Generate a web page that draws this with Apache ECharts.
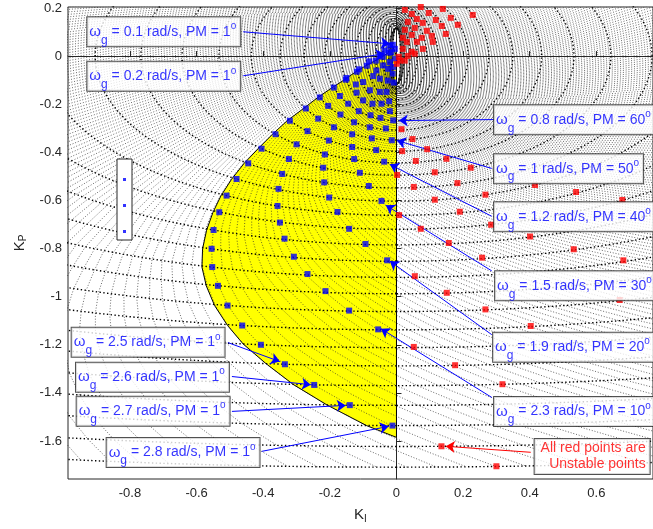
<!DOCTYPE html>
<html>
<head>
<meta charset="utf-8">
<script src="https://cdn.jsdelivr.net/npm/echarts@6/dist/echarts.min.js"></script>
<style>
html, body { margin: 0; padding: 0; background: #fff; }
#main { width: 653px; height: 529px; }
</style>
</head>
<body>
<div id="main"></div>
<script>
// gain crossover frequencies of the grid (rad/s)
var omegas = [0.1, 0.2, 0.3, 0.4, 0.5, 0.6, 0.7, 0.8, 0.9, 1.0,
              1.1, 1.2, 1.3, 1.4, 1.5, 1.6, 1.7, 1.8, 1.9, 2.0,
              2.1, 2.2, 2.3, 2.4, 2.5, 2.6, 2.7, 2.8, 2.9, 3.0];
// half height of each omega ellipse
var ellipseKp = [0.120, 0.116, 0.137, 0.156, 0.182, 0.208, 0.238, 0.269, 0.308, 0.349,
                 0.396, 0.444, 0.495, 0.548, 0.603, 0.662, 0.720, 0.785, 0.853, 0.920,
                 0.988, 1.062, 1.138, 1.212, 1.288, 1.370, 1.452, 1.536, 1.623, 1.709];
// angle on the ellipse where PM = 0 (deg), read from the PM = 1 points
var zeroPmDeg = [114, 98, 89.7, 84, 78.3, 73, 66.7, 61.9, 57.1, 52.3,
                 48.3, 43.9, 39.9, 36.5, 33.1, 29.8, 26.8, 23.9, 21, 18.5,
                 15.9, 13.5, 11.2, 9.1, 7.0, 5.0, 3.05, 1.2, -0.64, -2.35];

// stable region outline [K_I, K_P]
var stableBoundary = [
  [0, 0.0], [-0.013, 0.047], [-0.025, 0.013], [-0.044, -0.004], [-0.065, -0.020],
  [-0.093, -0.041], [-0.123, -0.066], [-0.157, -0.099], [-0.194, -0.132], [-0.237, -0.173],
  [-0.280, -0.219], [-0.329, -0.270], [-0.373, -0.326], [-0.416, -0.386], [-0.458, -0.447],
  [-0.495, -0.512], [-0.527, -0.581], [-0.551, -0.650], [-0.570, -0.724], [-0.582, -0.801],
  [-0.584, -0.877], [-0.571, -0.955], [-0.546, -1.037], [-0.507, -1.120], [-0.460, -1.197],
  [-0.392, -1.278], [-0.310, -1.365], [-0.209, -1.450], [-0.090, -1.536], [0, -1.585]
];

// blue points, PM = 1 deg row
var stableEdge = [
  [-0.011, 0.047], [-0.023, 0.014], [-0.041, -0.003], [-0.062, -0.019], [-0.089, -0.040],
  [-0.119, -0.065], [-0.152, -0.098], [-0.188, -0.131], [-0.230, -0.172], [-0.272, -0.218],
  [-0.320, -0.269], [-0.363, -0.325], [-0.405, -0.385], [-0.445, -0.446], [-0.480, -0.511],
  [-0.510, -0.580], [-0.532, -0.649], [-0.549, -0.723], [-0.555, -0.801], [-0.553, -0.877],
  [-0.536, -0.955], [-0.507, -1.037], [-0.463, -1.120], [-0.407, -1.200], [-0.335, -1.281],
  [-0.247, -1.367], [-0.140, -1.451], [-0.012, -1.536]
];
// blue points, PM = 10..60 deg
var stableInner = [
  [-0.205, -0.207], [-0.235, -0.260], [-0.267, -0.312], [-0.300, -0.367], [-0.323, -0.428],
  [-0.343, -0.490], [-0.354, -0.552], [-0.357, -0.623], [-0.350, -0.692], [-0.336, -0.759],
  [-0.308, -0.834], [-0.267, -0.906], [-0.213, -0.977], [-0.142, -1.058], [-0.055, -1.136],
  [-0.145, -0.198], [-0.168, -0.243], [-0.188, -0.296], [-0.203, -0.351], [-0.215, -0.409],
  [-0.220, -0.464], [-0.217, -0.525], [-0.202, -0.588], [-0.177, -0.648], [-0.142, -0.718],
  [-0.093, -0.781], [-0.028, -0.849],
  [-0.120, -0.152], [-0.100, -0.184], [-0.113, -0.229], [-0.127, -0.275], [-0.133, -0.325],
  [-0.133, -0.378], [-0.127, -0.428], [-0.110, -0.485], [-0.083, -0.540], [-0.045, -0.602],
  [-0.080, -0.142], [-0.072, -0.198], [-0.078, -0.246], [-0.080, -0.296], [-0.074, -0.342],
  [-0.061, -0.391], [-0.037, -0.439],
  [-0.050, -0.149], [-0.045, -0.198], [-0.048, -0.257], [-0.032, -0.301], [-0.014, -0.350],
  [-0.030, -0.149], [-0.022, -0.188], [-0.020, -0.229], [-0.010, -0.267]
];
// blue points crowded near the origin
var stableCrowd = [
  [-0.170, -0.166], [-0.150, -0.091], [-0.112, -0.055], [-0.122, -0.118], [-0.100, -0.108],
  [-0.082, -0.022], [-0.070, -0.083], [-0.050, 0.002], [-0.060, -0.060], [-0.035, 0.023],
  [-0.040, -0.039], [-0.020, -0.025], [-0.015, 0.017], [-0.020, 0.044], [-0.025, -0.053],
  [-0.011, -0.073], [-0.026, -0.102], [-0.050, -0.094], [-0.008, -0.110], [-0.005, 0.030],
  [-0.004, -0.010], [-0.010, -0.045]
];
// red points
var unstablePts = [
  [0.025, 0.192], [0.046, 0.175], [0.073, 0.204], [0.097, 0.179], [0.139, 0.196],
  [0.229, 0.171], [0.034, 0.142], [0.061, 0.154], [0.079, 0.138], [0.118, 0.150],
  [0.163, 0.159], [0.184, 0.130], [0.025, 0.109], [0.055, 0.117], [0.091, 0.105],
  [0.136, 0.125], [0.148, 0.092], [0.019, 0.076], [0.046, 0.088], [0.076, 0.076],
  [0.106, 0.084], [0.109, 0.059], [0.031, 0.059], [0.061, 0.059], [0.079, 0.030],
  [0.019, 0.030], [0.034, 0.001], [0.007, -0.003], [0.010, -0.019], [0.001, -0.032],
  [0.046, 0.018], [0.055, 0.010], [0.025, -0.019],
  [0.015, -0.304], [0.048, -0.345], [0.092, -0.387], [0.017, -0.395], [0.058, -0.436],
  [0.150, -0.427], [0.223, -0.464], [0.115, -0.483], [0.002, -0.494], [0.183, -0.528],
  [0.052, -0.544], [0.267, -0.576], [0.115, -0.597], [0.190, -0.647], [0.008, -0.661],
  [0.284, -0.701], [0.073, -0.718], [0.157, -0.777], [0.257, -0.838], [0.055, -0.915],
  [0.151, -0.984], [0.267, -1.053], [0.403, -1.122], [0.052, -1.209], [0.176, -1.285],
  [0.318, -1.364], [0.135, -1.622], [0.300, -1.705], [0.416, -0.536], [0.539, -0.565],
  [0.678, -0.598], [0.401, -0.750], [0.532, -0.803], [0.681, -0.849], [0.670, -1.014]
];

// callouts
var annoOmega = ['0.1', '0.2', '0.8', '1', '1.2', '1.5', '1.9', '2.3', '2.5', '2.6', '2.7', '2.8'];
var annoPm = ['1', '1', '60', '50', '40', '30', '20', '10', '1', '1', '1', '1'];
var annoBox = [[-0.928, 0.101], [-0.928, -0.084], [0.293, -0.265], [0.293, -0.468],
               [0.293, -0.668], [0.296, -0.955], [0.290, -1.210], [0.293, -1.477],
               [-0.975, -1.190], [-0.962, -1.335], [-0.960, -1.476], [-0.870, -1.648]];
var annoTail = [[-0.460, 0.101], [-0.460, -0.082], [0.292, -0.264], [0.286, -0.467],
                [0.286, -0.666], [0.286, -0.893], [0.286, -1.158], [0.286, -1.419],
                [-0.506, -1.191], [-0.494, -1.332], [-0.494, -1.477], [-0.404, -1.643]];
var annoTip = [[-0.020, 0.051], [-0.035, 0.010], [0.007, -0.268], [0.001, -0.351],
               [-0.020, -0.450], [-0.032, -0.620], [-0.020, -0.852], [-0.047, -1.133],
               [-0.350, -1.270], [-0.257, -1.366], [-0.152, -1.452], [-0.023, -1.539]];
var redNoteBox = [0.760, -1.664];
var redNoteTail = [0.403, -1.647];
var redNoteTip = [0.148, -1.622];

var xTicks = [-0.8, -0.6, -0.4, -0.2, 0, 0.2, 0.4, 0.6];
var yTicks = [-1.6, -1.4, -1.2, -1, -0.8, -0.6, -0.4, -0.2, 0, 0.2];

var BLUE = '#0000ff', RED = '#ff0000', FONT = 'Liberation Sans';

// dotted mesh: constant-omega ellipses and constant-PM curves
var rad = Math.PI / 180;
var ellipseData = [];
omegas.forEach(function (w, i) {
  for (var d = 0; d <= 360; d += 2) {
    ellipseData.push([-w * ellipseKp[i] * Math.sin(d * rad), -ellipseKp[i] * Math.cos(d * rad)]);
  }
  ellipseData.push(['-', '-']);
});
var pmData = [];
for (var p = 0; p < 360; p += 1) {
  omegas.forEach(function (w, i) {
    var psi = (zeroPmDeg[i] - p) * rad;
    pmData.push([-w * ellipseKp[i] * Math.sin(psi), -ellipseKp[i] * Math.cos(psi)]);
  });
  pmData.push(['-', '-']);
}

var arrowLines = annoTail.map(function (t, i) {
  return [{ coord: t }, { coord: annoTip[i] }];
});

var chart = echarts.init(document.getElementById('main'), null, { renderer: 'canvas' });
chart.setOption({
  animation: false,
  textStyle: { fontFamily: FONT },
  grid: { left: 68, right: -2, top: 7, bottom: 47, show: true, borderColor: '#262626', borderWidth: 1, backgroundColor: 'transparent' },
  legend: {
    data: ['PM edge', 'PM inner', 'near origin'],
    orient: 'vertical', left: 117, top: 159,
    icon: 'rect', itemWidth: 3, itemHeight: 3, itemGap: 23,
    formatter: function () { return ''; },
    backgroundColor: '#fff', borderColor: '#262626', borderWidth: 1,
    padding: [19, 6, 7, 6], selectedMode: false, z: 20
  },
  xAxis: {
    type: 'value', min: -0.986, max: 0.77,
    name: '{k|K}{s|I}', nameLocation: 'middle', nameGap: 27,
    nameTextStyle: { color: '#262626', rich: { k: { fontSize: 15, fontFamily: FONT }, s: { fontSize: 10, verticalAlign: 'bottom', fontFamily: FONT, padding: [8, 0, 0, 0] } } },
    axisLine: { lineStyle: { color: '#262626' } },
    axisTick: { inside: true, length: 5, customValues: xTicks, lineStyle: { color: '#262626' } },
    axisLabel: { customValues: xTicks, color: '#262626', fontSize: 13, margin: 8, formatter: function (v) { return String(+v.toFixed(1)); } },
    splitLine: { show: false }
  },
  yAxis: {
    type: 'value', min: -1.758, max: 0.204,
    name: '{k|K}{s|P}', nameLocation: 'middle', nameGap: 38,
    nameTextStyle: { color: '#262626', rich: { k: { fontSize: 15, fontFamily: FONT }, s: { fontSize: 10, verticalAlign: 'bottom', fontFamily: FONT, padding: [8, 0, 0, 0] } } },
    axisLine: { lineStyle: { color: '#262626' } },
    axisTick: { inside: true, length: 5, customValues: yTicks, lineStyle: { color: '#262626' } },
    axisLabel: { customValues: yTicks, color: '#262626', fontSize: 13, margin: 6, formatter: function (v) { return String(+v.toFixed(1)); } },
    splitLine: { show: false }
  },
  series: [
    {
      name: 'stable region', type: 'custom', z: 1, silent: true,
      data: [[0, 0]],
      renderItem: function (params, api) {
        return {
          type: 'polygon',
          shape: { points: stableBoundary.map(function (pt) { return api.coord(pt); }) },
          style: { fill: '#ffff00', stroke: '#000', lineWidth: 1 }
        };
      }
    },
    {
      name: 'PM curves', type: 'line', z: 2, silent: true, showSymbol: false, connectNulls: false,
      data: pmData, lineStyle: { color: '#2a2a2a', width: 0.7, type: [1, 1.8] }
    },
    {
      name: 'omega ellipses', type: 'line', z: 3, silent: true, showSymbol: false, connectNulls: false,
      data: ellipseData, lineStyle: { color: '#000', width: 1.4, type: [1.4, 2.4] }
    },
    { name: 'PM edge', type: 'scatter', z: 5, symbol: 'rect', symbolSize: 6, itemStyle: { color: BLUE }, data: stableEdge },
    { name: 'PM inner', type: 'scatter', z: 5, symbol: 'rect', symbolSize: 6, itemStyle: { color: BLUE }, data: stableInner },
    { name: 'near origin', type: 'scatter', z: 5, symbol: 'rect', symbolSize: 6, itemStyle: { color: BLUE }, data: stableCrowd },
    { name: 'unstable', type: 'scatter', z: 5, symbol: 'rect', symbolSize: 6, itemStyle: { color: RED }, data: unstablePts },
    {
      name: 'arrows', type: 'scatter', z: 6, data: [],
      markLine: {
        silent: true, symbol: ['none', 'arrow'], symbolSize: 9, precision: 4,
        label: { show: false },
        lineStyle: { color: BLUE, width: 1, type: 'solid' },
        data: arrowLines.concat([[{ coord: redNoteTail, lineStyle: { color: RED } }, { coord: redNoteTip }]])
      }
    },
    {
      name: 'callouts', type: 'scatter', z: 8, symbolSize: 0, silent: true,
      data: annoBox,
      label: {
        show: true, position: [0, 0], align: 'left', verticalAlign: 'middle',
        backgroundColor: '#fff', borderColor: '#262626', borderWidth: 1, padding: [0, 4, 0, 2],
        formatter: function (params) {
          var i = params.dataIndex;
          return '{w|\u03c9}{g|g}{t| = ' + annoOmega[i] + ' rad/s, PM = ' + annoPm[i] + '}{o|o}';
        },
        rich: {
          w: { fontSize: 15, color: BLUE, fontFamily: FONT, lineHeight: 29 },
          g: { fontSize: 12, color: BLUE, fontFamily: FONT, lineHeight: 14, verticalAlign: 'bottom' },
          t: { fontSize: 14, color: BLUE, fontFamily: FONT, lineHeight: 29 },
          o: { fontSize: 10, color: BLUE, fontFamily: FONT, lineHeight: 12, verticalAlign: 'top', padding: [4, 0, 0, 0] }
        }
      }
    },
    {
      name: 'red note', type: 'scatter', z: 8, symbolSize: 0, silent: true,
      data: [redNoteBox],
      label: {
        show: true, position: [0, 0], align: 'right', verticalAlign: 'middle',
        backgroundColor: '#fff', borderColor: '#262626', borderWidth: 1, padding: [2, 4, 1, 6],
        color: RED, fontSize: 14, lineHeight: 16, fontFamily: FONT,
        formatter: 'All red points are\nUnstable points'
      }
    }
  ]
});
</script>
</body>
</html>
